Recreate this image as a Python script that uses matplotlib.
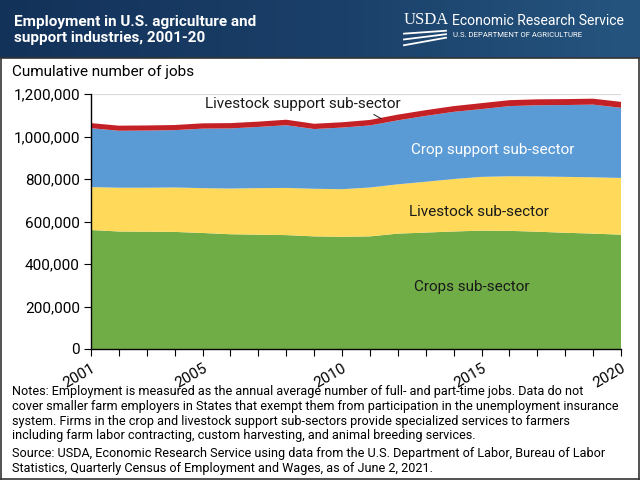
import numpy as np
import matplotlib.pyplot as plt
from matplotlib.ticker import FuncFormatter
from matplotlib.colors import LinearSegmentedColormap

plt.rcParams['font.family'] = ['Roboto', 'DejaVu Sans']

years = list(range(2001, 2021))
# thousands of jobs
crops = [560, 553, 552, 551, 546, 540, 538, 536, 530, 528,
         530, 543, 548, 553, 557, 556, 552, 547, 543, 538]
livestock_top = [762, 759, 759, 760, 757, 755, 757, 758, 754, 752,
                 760, 775, 787, 800, 810, 813, 812, 810, 808, 805]
total = [1063, 1051, 1052, 1054, 1062, 1063, 1070, 1079, 1060, 1067,
         1078, 1103, 1124, 1143, 1157, 1171, 1175, 1176, 1178, 1163]
livestock_support = [24, 24, 24, 24, 25, 25, 25, 26, 25, 25,
                     26, 27, 27, 27, 28, 28, 28, 28, 28, 28]

livestock = [a - b for a, b in zip(livestock_top, crops)]
crop_support = [t - s - l for t, s, l in zip(total, livestock_support, livestock_top)]

c_crops = '#70AD47'
c_live = '#FFD95A'
c_cropsup = '#5B9BD5'
c_livesup = '#C42127'

W, H = 640, 480
fig = plt.figure(figsize=(6.4, 4.8), dpi=100)

def fx(px):
    return px / W

def fy(py):
    return 1 - py / H

# header band with gradient
hdr = fig.add_axes([0, fy(58), 1, 58 / H])
grad = np.linspace(0, 1, 256).reshape(1, -1)
cmap = LinearSegmentedColormap.from_list('hdr', ['#13325a', '#1a3f68', '#25557f'])
hdr.imshow(grad, aspect='auto', cmap=cmap, extent=[0, 1, 0, 1])
hdr.set_xlim(0, 1)
hdr.set_ylim(0, 1)
hdr.set_axis_off()

fig.text(fx(14), fy(30), 'Employment in U.S. agriculture and\nsupport industries, 2001-20',
         color='white', fontsize=11, fontweight='bold', va='center', ha='left',
         linespacing=1.2)
fig.text(fx(404), fy(20), 'USDA', color='white', fontsize=12, va='center', ha='left',
         family=['Liberation Serif', 'DejaVu Serif'])
for k in range(3):
    hdr.plot([404 / W, 446 / W], [0.42 - k * 0.1, 0.47 - k * 0.06], color='white', lw=1.3)
fig.text(fx(452), fy(21), 'Economic Research Service', color='white', fontsize=10.1,
         va='center', ha='left')
fig.text(fx(453), fy(35), 'U.S. DEPARTMENT OF AGRICULTURE', color='white', fontsize=5.6,
         va='center', ha='left')

# frame around body
frame = fig.add_axes([0.002, 0.002, 0.996, fy(58) - 0.002])
frame.set_xticks([])
frame.set_yticks([])
frame.patch.set_alpha(0)
for s in frame.spines.values():
    s.set_color('#333333')
    s.set_linewidth(1.2)

ax = fig.add_axes([fx(91), fy(349), fx(621) - fx(91), (349 - 94) / H])
vals = np.array([crops, livestock, crop_support, livestock_support]) * 1000
ax.stackplot(years, vals, colors=[c_crops, c_live, c_cropsup, c_livesup], lw=0, zorder=2)
ax.set_xlim(2001, 2020)
ax.set_ylim(0, 1200000)
ax.set_yticks(np.arange(0, 1200001, 200000))
ax.yaxis.set_major_formatter(FuncFormatter(lambda v, p: f'{int(v):,}'))
ax.grid(axis='y', color='#d9d9d9', lw=0.8, zorder=0)
ax.set_xticks(years)
ax.set_xticklabels([str(y) if y in (2001, 2005, 2010, 2015, 2020) else '' for y in years])
ax.tick_params(axis='x', length=5, width=0.8, labelsize=11, pad=4)
ax.tick_params(axis='y', length=5, width=0.8, labelsize=11, pad=3)
plt.setp(ax.get_xticklabels(), rotation=30, ha='right', va='top', rotation_mode='anchor')
ax.spines['top'].set_visible(False)
ax.spines['right'].set_visible(False)
ax.spines['left'].set_linewidth(1.0)
ax.spines['bottom'].set_linewidth(1.0)
ax.spines['left'].set_zorder(3)
ax.spines['bottom'].set_zorder(3)

fig.text(fx(12), fy(72), 'Cumulative number of jobs', fontsize=11, va='center', ha='left')

ax.text(2015.4, 936000, 'Crop support sub-sector', color='white', fontsize=11,
        ha='center', va='center', zorder=4)
ax.text(2014.9, 645000, 'Livestock sub-sector', color='#1a1a1a', fontsize=11,
        ha='center', va='center', zorder=4)
ax.text(2014.65, 292000, 'Crops sub-sector', color='#1a1a1a', fontsize=11,
        ha='center', va='center', zorder=4)
ax.annotate('Livestock support sub-sector', xy=(2011.4, 1084000), xytext=(2005.1, 1153000),
            fontsize=11, color='#1a1a1a', ha='left', va='center', zorder=4,
            arrowprops=dict(arrowstyle='-', color='#1a1a1a', lw=0.7,
                            shrinkA=1, shrinkB=0, relpos=(0.83, 0)))

notes = ('Notes: Employment is measured as the annual average number of full- and part-time jobs. Data do not\n'
         'cover smaller farm employers in States that exempt them from participation in the unemployment insurance\n'
         'system. Firms in the crop and livestock support sub-sectors provide specialized services to farmers\n'
         'including farm labor contracting, custom harvesting, and animal breeding services.')
source = ('Source: USDA, Economic Research Service using data from the U.S. Department of Labor, Bureau of Labor\n'
          'Statistics, Quarterly Census of Employment and Wages, as of June 2, 2021.')
fig.text(fx(12), fy(385), notes, fontsize=9.1, va='top', ha='left', linespacing=1.18)
fig.text(fx(12), fy(447), source, fontsize=9.1, va='top', ha='left', linespacing=1.18)

fig.savefig('out.png', dpi=100)
